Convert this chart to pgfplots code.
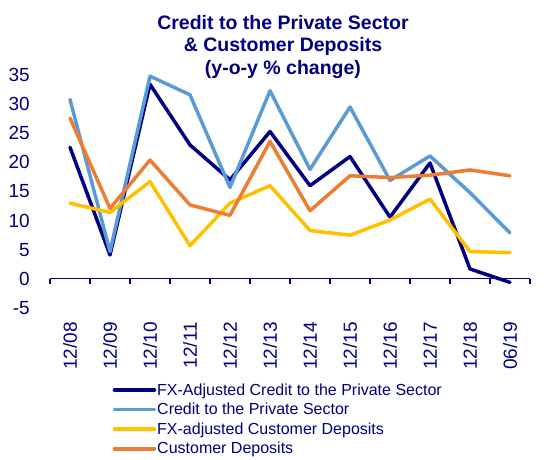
\documentclass[border=0pt]{standalone}
\usepackage{pgfplots}
\pgfplotsset{compat=1.18}
\usepackage{fontspec}
\setmainfont{Liberation Sans}
\definecolor{navytxt}{RGB}{0,0,128}
\definecolor{cnavy}{RGB}{0,0,128}
\definecolor{cblue}{RGB}{91,155,213}
\definecolor{cyellow}{RGB}{255,192,0}
\definecolor{corange}{RGB}{237,125,49}
\begin{document}
\begin{tikzpicture}
\begin{axis}[
  scale only axis,
  width=480pt, height=233pt,
  xmin=-0.5, xmax=11.5, ymin=-5, ymax=35,
  axis line style={draw=none},
  major tick length=0pt,
  xtick={0,...,11},
  xticklabels={12/08,12/09,12/10,12/11,12/12,12/13,12/14,12/15,12/16,12/17,12/18,06/19},
  ytick={-5,0,...,35},
  xtick pos=bottom, ytick pos=left,
  xticklabel style={rotate=90, anchor=east, inner sep=0pt, xshift=-14pt, font=\fontsize{19}{19}\selectfont, text=navytxt},
  yticklabel style={anchor=east, inner sep=0pt, xshift=-20pt, font=\fontsize{19}{19}\selectfont, text=navytxt},
  /pgf/number format/assume math mode=true,
  clip=false,
  legend style={draw=none, fill=none, at={(0.124,-0.31)}, anchor=north west,
    font=\fontsize{16}{18}\selectfont, text=navytxt, row sep=4.5pt,
    nodes={inner sep=1pt, anchor=west}},
  legend cell align=left,
  legend image code/.code={\draw[#1] (0pt,0pt) -- (40pt,0pt);},
  every axis plot/.append style={line width=3.5pt, line join=round, line cap=round},
]
\draw[cnavy, line width=1.2pt] (axis cs:-0.5,0) -- (axis cs:11.5,0);
\pgfplotsinvokeforeach{-0.5,0.5,...,11.5}{
  \draw[cnavy, line width=1.2pt] (axis cs:#1,0) -- ++(0pt,-5pt);
}
\addplot[cnavy] coordinates {(0,22.6) (1,4.1) (2,33.4) (3,23.0) (4,17.0) (5,25.3) (6,16.0) (7,21.0) (8,10.6) (9,19.9) (10,1.7) (11,-0.6)};
\addlegendentry{FX-Adjusted Credit to the Private Sector}
\addplot[cblue] coordinates {(0,30.8) (1,4.7) (2,34.8) (3,31.6) (4,15.7) (5,32.3) (6,18.8) (7,29.5) (8,16.9) (9,21.1) (10,14.8) (11,7.9)};
\addlegendentry{Credit to the Private Sector}
\addplot[cyellow] coordinates {(0,13.0) (1,11.4) (2,16.7) (3,5.7) (4,13.0) (5,16.0) (6,8.3) (7,7.5) (8,10.1) (9,13.7) (10,4.7) (11,4.5)};
\addlegendentry{FX-adjusted Customer Deposits}
\addplot[corange] coordinates {(0,27.6) (1,12.1) (2,20.4) (3,12.7) (4,10.9) (5,23.6) (6,11.7) (7,17.7) (8,17.4) (9,17.8) (10,18.7) (11,17.7)};
\addlegendentry{Customer Deposits}
\end{axis}
\node[align=center, text=navytxt, font=\bfseries\fontsize{19.5}{22.5}\selectfont] at (233pt,261pt) {Credit to the Private Sector\\ \& Customer Deposits\\ (y-o-y \% change)};
\pgfresetboundingbox
\path[use as bounding box] (-50pt,-151pt) rectangle (497pt,308pt);
\end{tikzpicture}
\end{document}
